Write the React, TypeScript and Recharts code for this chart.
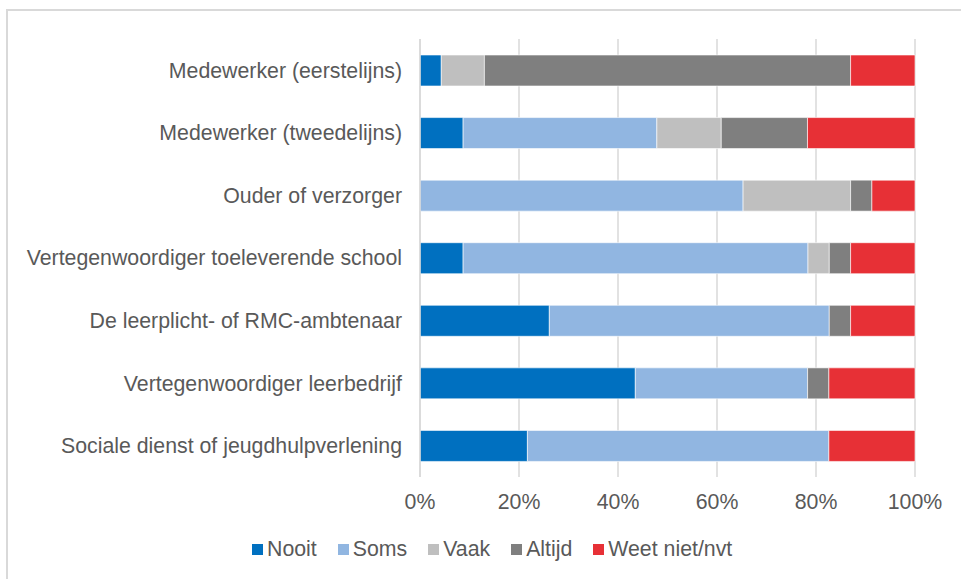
import { BarChart, Bar, XAxis, YAxis, CartesianGrid } from 'recharts'

const categories = [
  'Medewerker (eerstelijns)',
  'Medewerker (tweedelijns)',
  'Ouder of verzorger',
  'Vertegenwoordiger toeleverende school',
  'De leerplicht- of RMC-ambtenaar',
  'Vertegenwoordiger leerbedrijf',
  'Sociale dienst of jeugdhulpverlening',
]

// shares per category, in percent
const nooit = [4.3, 8.7, 0, 8.7, 26.1, 43.5, 21.7]
const soms = [0, 39.1, 65.2, 69.6, 56.5, 34.8, 60.9]
const vaak = [8.7, 13.0, 21.7, 4.3, 0, 0, 0]
const altijd = [73.9, 17.4, 4.3, 4.3, 4.3, 4.3, 0]
const weetNiet = [13.0, 21.7, 8.7, 13.0, 13.0, 17.4, 17.4]

const valueTicks = [0, 20, 40, 60, 80, 100]

const series = [
  { key: 'nooit', name: 'Nooit', color: '#0070c0', values: nooit },
  { key: 'soms', name: 'Soms', color: '#91b6e1', values: soms },
  { key: 'vaak', name: 'Vaak', color: '#bfbfbf', values: vaak },
  { key: 'altijd', name: 'Altijd', color: '#7f7f7f', values: altijd },
  { key: 'weetNiet', name: 'Weet niet/nvt', color: '#e73036', values: weetNiet },
]

// stacked stretches [from, to] per series, scaled so each row ends at 100%
const data = categories.map((name, i) => {
  const total = series.reduce((acc, s) => acc + s.values[i], 0)
  const row: Record<string, any> = { name }
  let cum = 0
  series.forEach((s) => {
    const from = Math.round((cum * 100 * 100) / total) / 100
    cum += s.values[i]
    const to = Math.round((cum * 100 * 100) / total) / 100
    row[s.key] = [from, to]
  })
  return row
})

const font = '"Liberation Sans", Arial, sans-serif'
const textColor = '#595959'
const fontSize = 21.3

// drawn as a column chart that is turned a quarter turn; labels are turned back
const CategoryTick = (props: any) => {
  const { x, y, payload } = props
  return (
    <g transform={`translate(${x},${y}) rotate(-90)`}>
      <text x={0} y={0} dy="0.35em" textAnchor="end" fill={textColor} fontSize={fontSize} fontFamily={font}>
        {payload.value}
      </text>
    </g>
  )
}

const ValueTick = (props: any) => {
  const { x, y, payload } = props
  return (
    <g transform={`translate(${x},${y}) rotate(-90)`}>
      <text x={0} y={0} dy="0.71em" textAnchor="middle" fill={textColor} fontSize={fontSize} fontFamily={font}>
        {`${payload.value}%`}
      </text>
    </g>
  )
}

export default function App() {
  return (
    <div style={{ position: 'absolute', left: 0, top: 0, width: 961, height: 579, background: '#fff', fontFamily: font, overflow: 'hidden' }}>
      <div
        style={{
          position: 'absolute',
          left: 6,
          top: 9,
          width: 955,
          height: 570,
          borderTop: '2px solid #d9d9d9',
          borderLeft: '2px solid #d9d9d9',
        }}
      />
      <div
        style={{
          position: 'absolute',
          left: 0,
          top: 0,
          width: 579,
          height: 961,
          transformOrigin: '0 0',
          transform: 'translateX(961px) rotate(90deg)',
        }}
      >
        <BarChart
          width={579}
          height={961}
          data={data}
          barSize={31}
          barGap={-31}
          margin={{ top: 46, right: 0, bottom: 0, left: 39 }}
        >
          <CartesianGrid vertical={false} stroke="#d9d9d9" strokeWidth={1.5} />
          <XAxis
            dataKey="name"
            height={420}
            axisLine={{ stroke: '#d9d9d9', strokeWidth: 1.5 }}
            tickLine={false}
            tickSize={0}
            tickMargin={18}
            interval={0}
            tick={<CategoryTick />}
          />
          <YAxis
            orientation="right"
            ticks={valueTicks}
            width={102}
            axisLine={false}
            tickLine={false}
            tickSize={0}
            tickMargin={17}
            tick={<ValueTick />}
          />
          {series.map((s) => (
            <Bar
              key={s.key}
              dataKey={s.key}
              name={s.name}
              fill={s.color}
              stroke="#ffffff"
              strokeWidth={0.6}
              isAnimationActive={false}
            />
          ))}
        </BarChart>
      </div>
      <div
        style={{
          position: 'absolute',
          left: 252,
          top: 537,
          display: 'flex',
          gap: 21,
          fontSize,
          lineHeight: '24px',
          color: textColor,
          whiteSpace: 'nowrap',
        }}
      >
        {series.map((s) => (
          <div key={s.key}>
            <span
              style={{
                display: 'inline-block',
                width: 11,
                height: 11,
                background: s.color,
                marginRight: 4,
                verticalAlign: 'baseline',
                position: 'relative',
                top: -1,
              }}
            />
            {s.name}
          </div>
        ))}
      </div>
    </div>
  )
}
